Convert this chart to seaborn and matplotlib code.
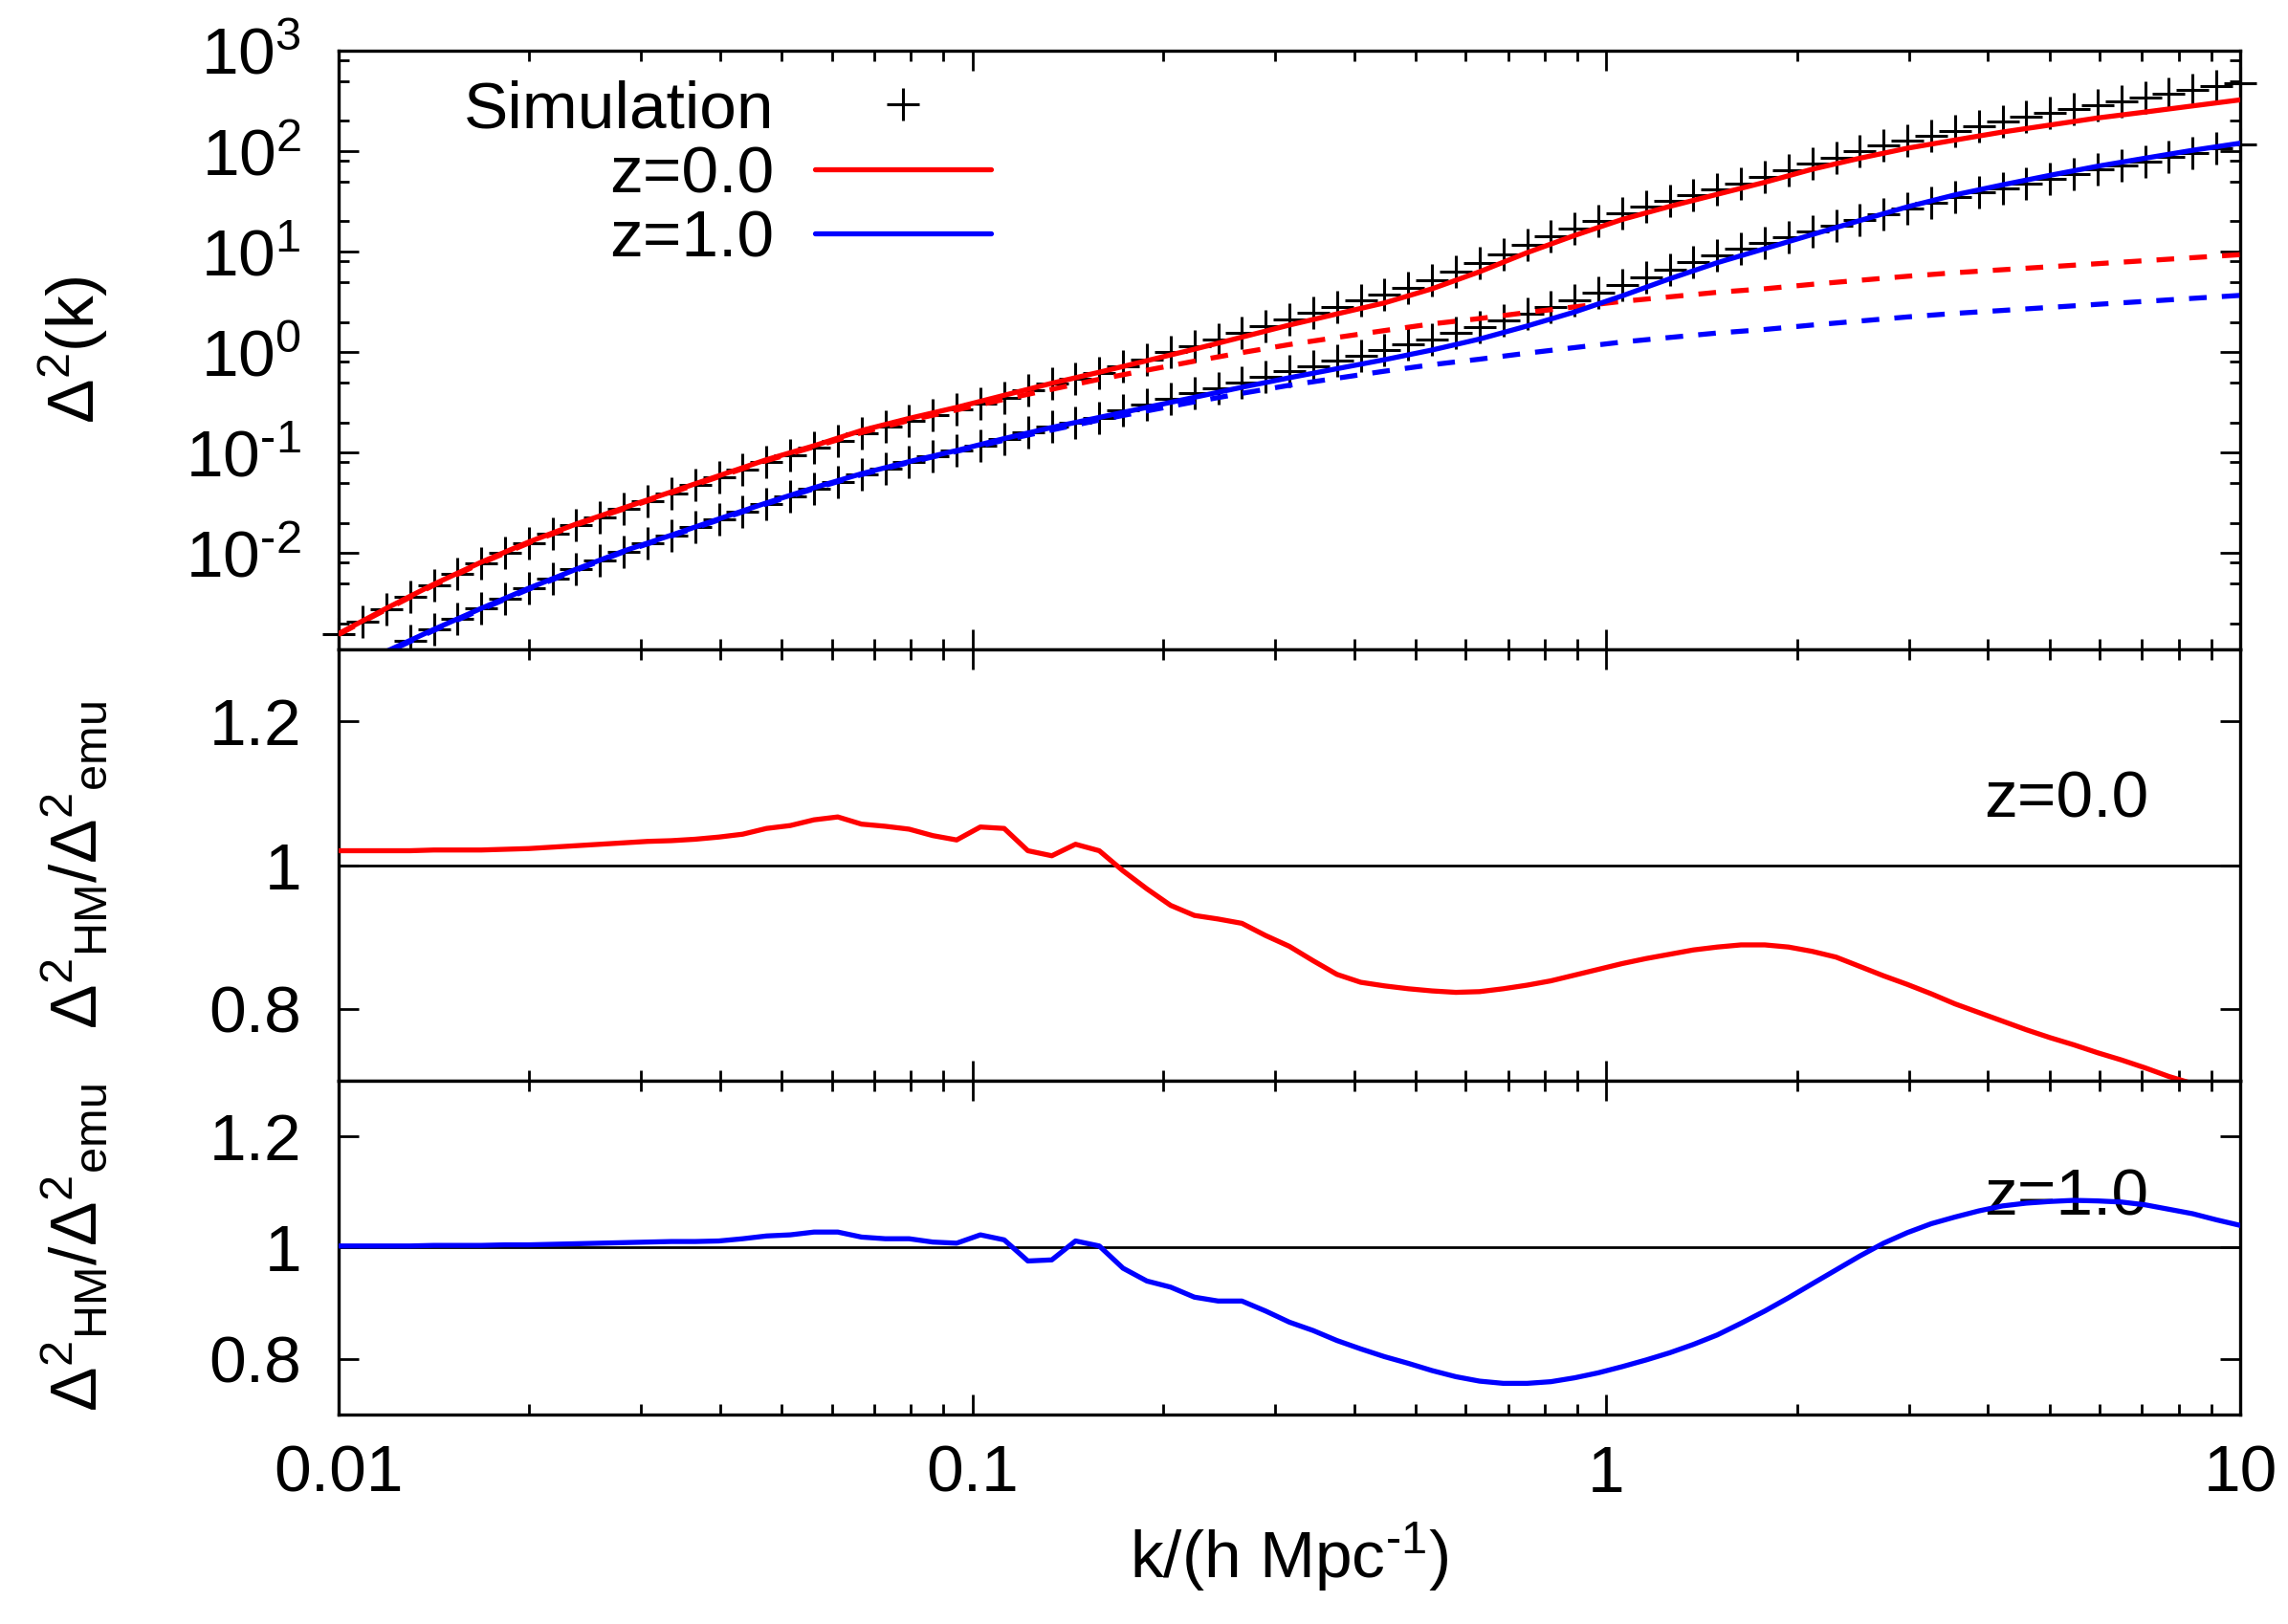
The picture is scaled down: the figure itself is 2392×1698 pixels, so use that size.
import numpy as np
import matplotlib
matplotlib.use("Agg")
import matplotlib.pyplot as plt
from matplotlib.lines import Line2D
from matplotlib.ticker import (LogLocator, FixedLocator, NullLocator,
                               FormatStrFormatter, FuncFormatter, NullFormatter)
import seaborn as sns

# k grid of the emulator / simulation points (h/Mpc)
K = [0.01000, 0.01090, 0.01189, 0.01296, 0.01413, 0.01540, 0.01679, 0.01830, 0.01995, 0.02175,
     0.02371, 0.02585, 0.02818, 0.03073, 0.03350, 0.03652, 0.03981, 0.04340, 0.04732, 0.05158,
     0.05623, 0.06131, 0.06683, 0.07286, 0.07943, 0.08660, 0.09441, 0.1029, 0.1122, 0.1223,
     0.1334, 0.1454, 0.1585, 0.1728, 0.1884, 0.2054, 0.2239, 0.2441, 0.2661, 0.2901,
     0.3162, 0.3447, 0.3758, 0.4097, 0.4467, 0.4870, 0.5309, 0.5788, 0.6310, 0.6879,
     0.7499, 0.8175, 0.8913, 0.9716, 1.059, 1.155, 1.259, 1.372, 1.496, 1.631,
     1.778, 1.939, 2.113, 2.304, 2.512, 2.738, 2.985, 3.255, 3.548, 3.868,
     4.217, 4.597, 5.012, 5.464, 5.957, 6.494, 7.079, 7.718, 8.414, 9.173, 10.00]

# simulation (emulator) points, Delta^2(k)
SIM_Z0 = [0.00155, 0.00207, 0.00276, 0.00364, 0.00480, 0.00618, 0.00796, 0.0100, 0.0126, 0.0155,
          0.0190, 0.0228, 0.0273, 0.0328, 0.0394, 0.0473, 0.0567, 0.0679, 0.0810, 0.0948,
          0.111, 0.131, 0.157, 0.181, 0.208, 0.238, 0.272, 0.307, 0.353, 0.418,
          0.484, 0.540, 0.619, 0.726, 0.850, 0.994, 1.15, 1.33, 1.54, 1.80,
          2.10, 2.44, 2.83, 3.25, 3.71, 4.39, 5.17, 6.31, 7.66, 9.48,
          11.7, 14.2, 17.1, 20.3, 24.2, 27.9, 32.2, 36.7, 41.9, 48.0,
          55.1, 64.2, 75.1, 86.0, 99.1, 113, 128, 143, 160, 178,
          198, 218, 239, 263, 289, 314, 342, 373, 405, 440, 479]
SIM_Z1 = [0.000587, 0.000783, 0.00104, 0.00135, 0.00173, 0.00220, 0.00281, 0.00353, 0.00445, 0.00552,
          0.00687, 0.00844, 0.0104, 0.0125, 0.0150, 0.0180, 0.0216, 0.0259, 0.0310, 0.0367,
          0.0435, 0.0511, 0.0605, 0.0697, 0.0800, 0.0913, 0.104, 0.117, 0.136, 0.160,
          0.182, 0.197, 0.223, 0.261, 0.300, 0.340, 0.389, 0.440, 0.494, 0.563,
          0.642, 0.725, 0.821, 0.927, 1.05, 1.19, 1.34, 1.55, 1.78, 2.07,
          2.41, 2.82, 3.28, 3.90, 4.62, 5.53, 6.62, 7.82, 9.21, 10.6,
          12.1, 13.8, 15.8, 18.1, 20.7, 23.7, 27.1, 30.7, 34.8, 38.7,
          43.0, 47.8, 53.1, 58.8, 65.3, 71.8, 79.0, 87.3, 96.4, 106, 116]

# ratio halo model / emulator
RATIO_Z0 = [1.020, 1.020, 1.020, 1.020, 1.021, 1.021, 1.021, 1.022, 1.023, 1.025,
            1.027, 1.029, 1.031, 1.033, 1.034, 1.036, 1.039, 1.043, 1.051, 1.055,
            1.063, 1.067, 1.057, 1.054, 1.050, 1.041, 1.035, 1.053, 1.051, 1.020,
            1.013, 1.029, 1.020, 0.992, 0.967, 0.944, 0.930, 0.925, 0.919, 0.902,
            0.887, 0.867, 0.848, 0.837, 0.832, 0.828, 0.825, 0.823, 0.824, 0.828,
            0.833, 0.839, 0.847, 0.855, 0.863, 0.870, 0.876, 0.882, 0.886, 0.889,
            0.889, 0.886, 0.880, 0.872, 0.859, 0.846, 0.834, 0.821, 0.807, 0.795,
            0.783, 0.771, 0.760, 0.750, 0.739, 0.729, 0.718, 0.706, 0.696, 0.686, 0.676]
RATIO_Z1 = [1.003, 1.003, 1.003, 1.003, 1.004, 1.004, 1.004, 1.005, 1.005, 1.006,
            1.007, 1.008, 1.009, 1.010, 1.011, 1.011, 1.012, 1.016, 1.021, 1.023,
            1.028, 1.028, 1.019, 1.016, 1.016, 1.010, 1.008, 1.023, 1.014, 0.976,
            0.978, 1.012, 1.003, 0.963, 0.940, 0.929, 0.911, 0.904, 0.904, 0.886,
            0.866, 0.851, 0.833, 0.818, 0.804, 0.792, 0.779, 0.768, 0.760, 0.756,
            0.756, 0.759, 0.766, 0.775, 0.786, 0.798, 0.811, 0.826, 0.843, 0.864,
            0.886, 0.910, 0.935, 0.960, 0.985, 1.008, 1.027, 1.043, 1.055, 1.066,
            1.075, 1.080, 1.083, 1.085, 1.084, 1.082, 1.077, 1.069, 1.061, 1.050, 1.040]

# halo model and linear theory curves, on every second k of the grid
HM_Z0 = [0.00158, 0.00282, 0.00490, 0.00813, 0.0129, 0.0195, 0.0282, 0.0407, 0.0589, 0.0851,
         0.117, 0.166, 0.219, 0.282, 0.372, 0.490, 0.631, 0.822, 1.07, 1.41,
         1.86, 2.40, 3.09, 4.27, 6.31, 9.77, 14.5, 20.9, 28.2, 37.2,
         49.0, 66.1, 85.1, 107, 129, 155, 182, 214, 245, 282, 324]
HM_Z1 = [0.000589, 0.00105, 0.00174, 0.00282, 0.00447, 0.00692, 0.0105, 0.0151, 0.0219, 0.0316,
         0.0447, 0.0617, 0.0813, 0.105, 0.138, 0.178, 0.224, 0.282, 0.355, 0.447,
         0.556, 0.684, 0.841, 1.05, 1.35, 1.82, 2.51, 3.63, 5.37, 7.76,
         10.7, 14.8, 20.4, 27.9, 36.7, 46.2, 57.5, 70.8, 85.1, 102, 120]
LIN_Z0 = [0.00155, 0.00275, 0.00479, 0.00794, 0.0126, 0.0191, 0.0275, 0.0398, 0.0575, 0.0832,
          0.114, 0.158, 0.209, 0.266, 0.339, 0.427, 0.537, 0.661, 0.813, 0.989,
          1.19, 1.40, 1.64, 1.91, 2.16, 2.48, 2.82, 3.20, 3.55, 3.94,
          4.27, 4.73, 5.19, 5.69, 6.17, 6.61, 7.08, 7.59, 8.13, 8.71, 9.33]
LIN_Z1 = [0.000580, 0.00102, 0.00170, 0.00275, 0.00437, 0.00676, 0.0103, 0.0148, 0.0214, 0.0309,
          0.0437, 0.0604, 0.0797, 0.103, 0.133, 0.168, 0.211, 0.260, 0.320, 0.389,
          0.468, 0.550, 0.646, 0.750, 0.851, 0.977, 1.11, 1.26, 1.40, 1.55,
          1.68, 1.86, 2.04, 2.24, 2.43, 2.60, 2.79, 2.99, 3.20, 3.43, 3.67]

LABELS = ["Simulation", "z=0.0", "z=1.0"]
XTICKS = [0.01, 0.1, 1, 10]
RATIO_TICKS = [0.8, 1.0, 1.2]

FONT = 25
RED = "#ff0000"
BLUE = "#0000ff"
LW = 1.9
DASH = (0, (3.5, 3))
HYPHEN = "\u2010"  # gnuplot style short minus in exponents

sns.set_theme(style="ticks")
plt.rcParams['font.family'] = ['Liberation Sans', 'DejaVu Sans']
plt.rcParams['mathtext.fontset'] = 'custom'
plt.rcParams['mathtext.rm'] = 'Liberation Sans'
plt.rcParams['mathtext.it'] = 'Liberation Sans:italic'
plt.rcParams['mathtext.bf'] = 'Liberation Sans:bold'
plt.rcParams['axes.unicode_minus'] = False
plt.rcParams['axes.linewidth'] = 1.2
plt.rcParams['axes.edgecolor'] = 'black'

k = np.array(K)
k_line = k[::2]
top_ymin, top_ymax = 1.1e-3, 1e3


def pow10_label(v, pos):
    e = int(round(np.log10(v)))
    exp = f"{HYPHEN}{abs(e)}" if e < 0 else f"{e}"
    return r"$\mathdefault{10^{" + exp + r"}}$"


fig = plt.figure(figsize=(11.96, 8.49), dpi=200)
ax_top = fig.add_axes([0.148, 0.6001, 0.8311, 0.3687])
ax_mid = fig.add_axes([0.148, 0.3345, 0.8311, 0.2656])
ax_bot = fig.add_axes([0.148, 0.1290, 0.8311, 0.2055])


def style_axis(ax):
    ax.set_xscale('log')
    ax.set_xlim(0.01, 10)
    ax.xaxis.set_major_locator(FixedLocator(XTICKS))
    ax.xaxis.set_minor_locator(LogLocator(base=10, subs=np.arange(2, 10), numticks=20))
    ax.xaxis.set_major_formatter(FuncFormatter(lambda v, p: f"{v:g}"))
    ax.xaxis.set_minor_formatter(NullFormatter())
    ax.tick_params(which='both', direction='in', top=True, right=True,
                   width=1.0, color='black', labelsize=FONT, labelcolor='black')
    ax.tick_params(which='major', length=7.5)
    ax.tick_params(which='minor', length=3.8)
    ax.tick_params(axis='y', pad=14)
    ax.tick_params(axis='x', pad=11)
    for sp in ax.spines.values():
        sp.set_visible(True)
        sp.set_linewidth(1.2)
        sp.set_color('black')


# ---- top panel: Delta^2(k)
style_axis(ax_top)
ax_top.set_yscale('log')
ax_top.set_ylim(top_ymin, top_ymax)
ax_top.yaxis.set_major_locator(LogLocator(base=10, numticks=20))
ax_top.yaxis.set_minor_locator(LogLocator(base=10, subs=(2, 5, 8), numticks=20))
ax_top.yaxis.set_major_formatter(FuncFormatter(pow10_label))
ax_top.yaxis.set_minor_formatter(NullFormatter())
ax_top.tick_params(labelbottom=False)

for sim in (SIM_Z0, SIM_Z1):
    s = np.array(sim)
    keep = (s >= top_ymin) & (s <= top_ymax)
    sns.scatterplot(x=k[keep], y=s[keep], marker='+', s=144, color='black',
                    linewidth=1.1, ax=ax_top, clip_on=False, zorder=2, legend=False)

sns.lineplot(x=k_line, y=LIN_Z0, color=RED, lw=LW, linestyle=DASH, estimator=None, ax=ax_top, zorder=3)
sns.lineplot(x=k_line, y=LIN_Z1, color=BLUE, lw=LW, linestyle=DASH, estimator=None, ax=ax_top, zorder=3)
sns.lineplot(x=k_line, y=HM_Z0, color=RED, lw=LW, estimator=None, ax=ax_top, zorder=4)
sns.lineplot(x=k_line, y=HM_Z1, color=BLUE, lw=LW, estimator=None, ax=ax_top, zorder=4)

ax_top.set_ylabel(r"$\Delta^{2}$(k)", fontsize=FONT, color='black')
ax_top.yaxis.set_label_coords(-0.12, 0.5)

handles = [Line2D([], [], ls='none', marker='+', color='black', ms=12, mew=1.1),
           Line2D([], [], color=RED, lw=LW),
           Line2D([], [], color=BLUE, lw=LW)]
leg = ax_top.legend(handles, LABELS, loc='upper left', bbox_to_anchor=(0.0657, 0.951),
                    markerfirst=False, frameon=False, fontsize=FONT, handlelength=2.65,
                    handletextpad=0.62, labelspacing=0.05, borderpad=0, borderaxespad=0)
for t in leg.get_texts():
    t.set_color('black')

# ---- ratio panels
for ax, ratio, color, ztxt, ty in ((ax_mid, RATIO_Z0, RED, "z=0.0", 0.612),
                                    (ax_bot, RATIO_Z1, BLUE, "z=1.0", 0.596)):
    style_axis(ax)
    ax.set_ylim(0.7, 1.3)
    ax.yaxis.set_major_locator(FixedLocator(RATIO_TICKS))
    ax.yaxis.set_minor_locator(NullLocator())
    ax.yaxis.set_major_formatter(FormatStrFormatter('%g'))
    ax.axhline(1.0, color='black', lw=1.0, zorder=1)
    sns.lineplot(x=k, y=ratio, color=color, lw=LW, estimator=None, ax=ax, zorder=3)
    ax.text(0.952, ty, ztxt, transform=ax.transAxes, ha='right', va='baseline',
            fontsize=FONT, color='black', zorder=2)
    ax.set_ylabel(r"$\Delta^{2}{}_{\mathrm{HM}}/\Delta^{2}{}_{\mathrm{emu}}$",
                  fontsize=FONT, color='black')
    ax.yaxis.set_label_coords(-0.12, 0.5)

ax_mid.tick_params(labelbottom=False)
ax_bot.set_xlabel("k/(h Mpc$^{" + HYPHEN + "1}$)", fontsize=FONT, labelpad=6, color='black')

fig.savefig("out.png", dpi=200)
